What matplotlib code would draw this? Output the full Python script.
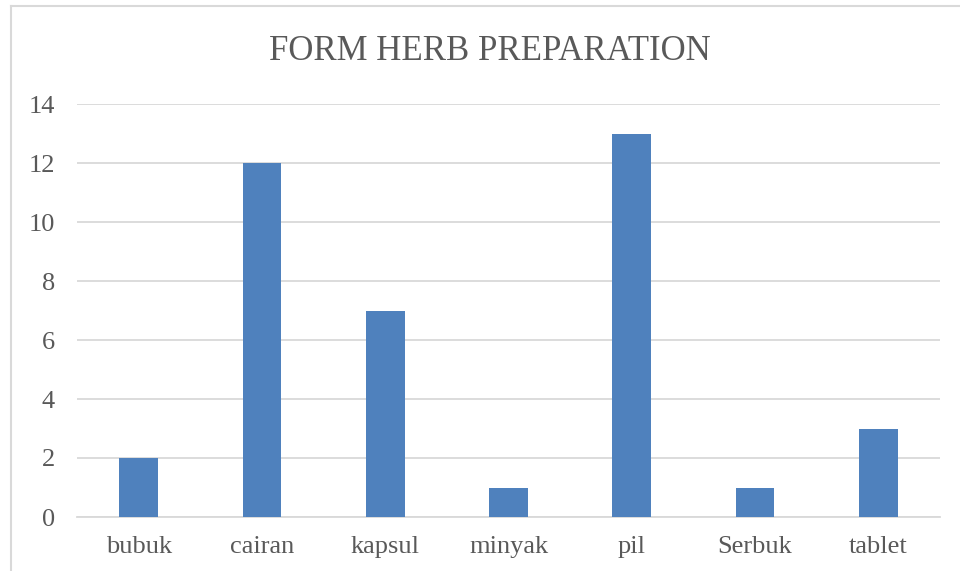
import matplotlib.pyplot as plt
from matplotlib.lines import Line2D

categories = ["bubuk", "cairan", "kapsul", "minyak", "pil", "Serbuk", "tablet"]
counts = [2, 12, 7, 1, 13, 1, 3]
yticks = [0, 2, 4, 6, 8, 10, 12, 14]

plt.rcParams['font.family'] = ['Liberation Serif', 'DejaVu Serif']
W, H = 960, 571
fig = plt.figure(figsize=(W / 100, H / 100), dpi=100)
ax = fig.add_axes([77 / W, 1 - 517 / H, (940 - 77) / W, (517 - 104) / H])

x = range(len(categories))
ax.bar(x, counts, width=0.315, color="#4F81BD", zorder=3)
ax.set_xlim(-0.5, len(categories) - 0.5)
ax.set_ylim(0, 14)
ax.set_yticks(yticks)
ax.set_xticks(list(x))
ax.set_xticklabels(categories)
ax.yaxis.grid(True, color="#D9D9D9", linewidth=1.3, zorder=0)
for s in ["top", "right", "left"]:
    ax.spines[s].set_visible(False)
ax.spines["bottom"].set_color("#D9D9D9")
ax.spines["bottom"].set_linewidth(1.3)
ax.tick_params(length=0, colors="#595959", labelsize=19)
ax.tick_params(axis="x", pad=14)
ax.tick_params(axis="y", pad=16)

fig.text(490 / W, 1 - 51 / H, "FORM HERB PREPARATION", ha="center", va="center",
         fontsize=25, color="#595959")

# chart border (left and top edges visible)
fig.add_artist(Line2D([11 / W, 11 / W], [0, 1 - 6 / H], color="#D9D9D9", linewidth=1.5))
fig.add_artist(Line2D([11 / W, 1], [1 - 6 / H, 1 - 6 / H], color="#D9D9D9", linewidth=1.5))

fig.savefig("out.png")
plt.close(fig)
